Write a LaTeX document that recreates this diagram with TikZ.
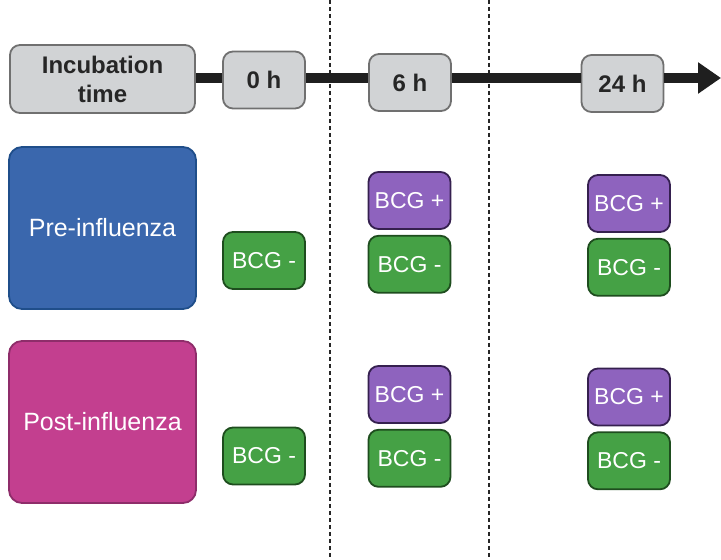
\documentclass[tikz,border=0pt]{standalone}
\usepackage{fontspec}
\setmainfont{Liberation Sans}
\usetikzlibrary{arrows.meta, positioning, backgrounds}
\definecolor{timefill}{HTML}{D1D3D5}
\definecolor{timedraw}{HTML}{707070}
\definecolor{prefill}{HTML}{3A67AD}
\definecolor{predraw}{HTML}{1F4E8A}
\definecolor{postfill}{HTML}{C33F8F}
\definecolor{postdraw}{HTML}{8E2D6A}
\definecolor{negfill}{HTML}{45A145}
\definecolor{negdraw}{HTML}{1E4D1E}
\definecolor{posfill}{HTML}{8E63BE}
\definecolor{posdraw}{HTML}{35204F}
\tikzset{
    timebox/.style={rectangle, rounded corners=10pt, minimum width=82pt, minimum height=57pt, text centered, line width=1.8pt, draw=timedraw, fill=timefill, text=black!85, font=\fontsize{24}{29}\selectfont\bfseries},
    groupbox/.style={rectangle, rounded corners=13pt, minimum width=187pt, minimum height=162pt, text centered, line width=1.8pt, text=white, font=\fontsize{25}{30}\selectfont},
    bcgneg/.style={rectangle, rounded corners=10pt, minimum width=82pt, minimum height=57pt, text centered, line width=1.8pt, draw=negdraw, fill=negfill, text=white, font=\fontsize{23}{28}\selectfont},
    bcgpos/.style={bcgneg, draw=posdraw, fill=posfill},
    timeline/.style={line width=10pt, black!88},
    sep/.style={line width=2pt, black!85, dash pattern=on 4pt off 3pt}
}

\begin{document}
\begin{tikzpicture}[x=1pt, y=1pt]

    \useasboundingbox (0,0) rectangle (721,560);

    % --- AXE DU TEMPS ---
    \node (incub) [timebox, minimum width=185pt, minimum height=68pt, align=center] at (102.5,481) {Incubation\\time};
    \node (t0) [timebox] at (264,480) {0 h};
    \node (t6) [timebox] at (410,477.5) {6 h};
    \node (t24) [timebox] at (622.5,476.5) {24 h};
    \coordinate (tend) at (721,482);

    % --- GROUPES ---
    \node (pre) [groupbox, draw=predraw, fill=prefill] at (102.5,332) {Pre-influenza};
    \node (post) [groupbox, draw=postdraw, fill=postfill] at (102.5,138) {Post-influenza};

    % --- BCG ---
    \node (pre0neg) [bcgneg] at (264,299.5) {BCG -};
    \node (post0neg) [bcgneg] at (264,104) {BCG -};

    \node (pre6pos) [bcgpos] at (409.5,359.5) {BCG +};
    \node (pre6neg) [bcgneg, below=5pt of pre6pos] {BCG -};
    \node (post6pos) [bcgpos] at (409.5,165.5) {BCG +};
    \node (post6neg) [bcgneg, below=5pt of post6pos] {BCG -};

    \node (pre24pos) [bcgpos] at (629,356.5) {BCG +};
    \node (pre24neg) [bcgneg, below=5pt of pre24pos] {BCG -};
    \node (post24pos) [bcgpos] at (629,163) {BCG +};
    \node (post24neg) [bcgneg, below=5pt of post24pos] {BCG -};

    % --- LIGNES ---
    \begin{pgfonlayer}{background}
        \draw [sep] (330,560) -- (330,0);
        \draw [sep] (489,560) -- (489,0);
    \end{pgfonlayer}

    \draw [timeline] (incub.east |- 0,482) -- (t0.west |- 0,482);
    \draw [timeline] (t0.east |- 0,482) -- (t6.west |- 0,482);
    \draw [timeline] (t6.east |- 0,482) -- (t24.west |- 0,482);
    \draw [timeline, -{Triangle[length=23pt, width=30pt]}] (t24.east |- 0,482) -- (tend);

\end{tikzpicture}
\end{document}
